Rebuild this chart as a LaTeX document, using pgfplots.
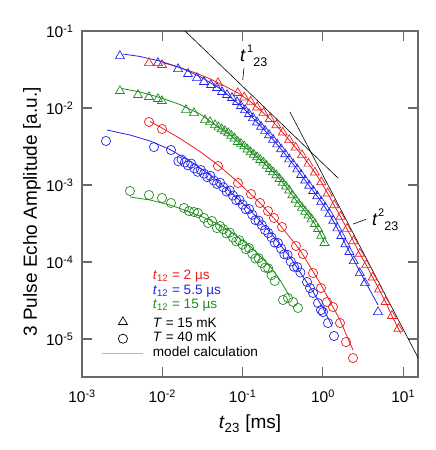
\documentclass[border=0pt]{standalone}
\usepackage{fontspec}
\setmainfont{Liberation Sans}
\usepackage{pgfplots}
\pgfplotsset{compat=1.18}

\definecolor{cred}{RGB}{235,30,30}
\definecolor{cblue}{RGB}{35,35,235}
\definecolor{cgreen}{RGB}{30,140,30}
\definecolor{axgray}{RGB}{105,105,105}

\pgfplotsset{
  tri/.style={only marks, mark=triangle, mark size=5.2pt, mark options={line width=0.7pt}, forget plot},
  circ/.style={only marks, mark=o, mark size=4.6pt, mark options={line width=0.7pt}, forget plot},
  model/.style={line width=0.8pt, no marks, forget plot},
}

\begin{document}
\begin{tikzpicture}
\path[use as bounding box] (-82pt,-73pt) rectangle (354pt,377pt);
\begin{axis}[
  at={(0pt,0pt)}, anchor=south west,
  scale only axis, width=336pt, height=346pt,
  xmode=log, ymode=log,
  xmin=1e-3, xmax=15.29, ymin=3.21e-6, ymax=0.1,
  xtick={1e-3,1e-2,1e-1,1,10},
  xticklabels={10\textsuperscript{-3},10\textsuperscript{-2},10\textsuperscript{-1},10\textsuperscript{0},10\textsuperscript{1}},
  ytick={1e-5,1e-4,1e-3,1e-2,1e-1},
  yticklabels={10\textsuperscript{-5},10\textsuperscript{-4},10\textsuperscript{-3},10\textsuperscript{-2},10\textsuperscript{-1}},
  xminorticks=false, yminorticks=false,
  major tick length=10pt,
  axis line style={draw=axgray, line width=1.2pt},
  tick style={draw=axgray, line width=1.2pt},
  tick label style={font=\fontsize{15.5}{15.5}\selectfont},
  xticklabel style={yshift=-9pt},
  yticklabel style={xshift=-5pt},
  xlabel={\textit{t}\textsubscript{23} [ms]},
  ylabel={3 Pulse Echo Amplitude [a.u.]},
  label style={font=\fontsize{19}{19}\selectfont},
  xlabel style={at={(axis description cs:0.5,-0.136)}, anchor=center},
  ylabel style={at={(axis description cs:-0.149,0.477)}, anchor=center},
  legend cell align=left,
  legend style={at={(rel axis cs:0.0595,0.3123)}, anchor=north west, draw=none, fill=none,
    inner sep=0pt, outer sep=0pt, row sep=0pt, font=\fontsize{13.6}{14}\selectfont,
    nodes={text height=9.8pt, text depth=3.2pt, inner sep=0.75pt},
    /tikz/every odd column/.append style={column sep=8.25pt}},
]

% ---- power laws
\addplot[black, line width=0.6pt, forget plot] coordinates {(0.0192,0.1) (1.55,0.001226)};
\addplot[black, line width=0.6pt, forget plot] coordinates {(0.389,0.00886) (15.4,5.65e-6)};

% ---- model lines, T = 15 mK
\addplot[model, cred] coordinates {
 (0.01,0.0390) (0.01585,0.0340) (0.02512,0.0289) (0.03981,0.0238) (0.0631,0.01875)
 (0.0871,0.01567) (0.1047,0.01374) (0.1259,0.01208) (0.1514,0.01021) (0.182,0.00861)
 (0.2188,0.00724) (0.263,0.00598) (0.3162,0.00481) (0.3802,0.00384) (0.4571,0.00307)
 (0.5495,0.00245) (0.6607,0.00190) (0.7943,0.00146) (0.955,0.00109) (1.148,7.80e-4)
 (1.380,5.47e-4) (1.660,3.88e-4) (1.995,2.70e-4) (2.399,1.87e-4) (2.884,1.28e-4)
 (3.467,9.14e-5) (4.169,6.31e-5) (5.012,4.42e-5) (6.026,3.03e-5) (7.244,2.00e-5)
 (8.710,1.36e-5) (9.33,1.18e-5)};
\addplot[model, cblue] coordinates {
 (0.00324,0.0502) (0.00527,0.0467) (0.00935,0.0407) (0.0166,0.0336) (0.0295,0.0256)
 (0.0524,0.0179) (0.0955,0.01062) (0.1202,0.00836) (0.1514,0.00652) (0.1905,0.00506)
 (0.2399,0.00389) (0.3020,0.00292) (0.3802,0.00216) (0.4786,0.00160) (0.6026,0.001148)
 (0.7586,8.38e-4) (0.9550,6.08e-4) (1.202,4.24e-4) (1.514,2.74e-4) (1.905,1.71e-4)
 (2.421,1.06e-4) (3.342,5.66e-5) (4.853,2.77e-5)};
\addplot[model, cgreen] coordinates {
 (0.00315,0.0179) (0.00527,0.01615) (0.00935,0.01368) (0.0166,0.01109) (0.0295,0.00836)
 (0.0501,0.00562) (0.0661,0.00472) (0.0871,0.00364) (0.1148,0.00290) (0.1514,0.00230)
 (0.1995,0.00178) (0.2630,0.00134) (0.3467,9.57e-4) (0.4571,6.46e-4) (0.6026,4.52e-4)
 (0.7943,3.13e-4) (0.9550,2.20e-4) (1.0471,1.77e-4)};

% ---- model lines, T = 40 mK
\addplot[model, cred] coordinates {
 (0.00703,0.00668) (0.00992,0.00550) (0.01661,0.00402) (0.02948,0.00272) (0.0494,0.001819)
 (0.0876,0.001094) (0.1647,5.84e-4) (0.2923,3.02e-4) (0.5186,1.432e-4) (0.920,5.34e-5)
 (1.633,1.765e-5) (2.371,7.19e-6)};
\addplot[model, cblue] coordinates {
 (0.002048,0.00518) (0.00396,0.00446) (0.00703,0.00373) (0.01247,0.00289) (0.02213,0.00205)
 (0.0393,0.001349) (0.0697,8.23e-4) (0.1236,4.73e-4) (0.2194,2.45e-4) (0.389,1.161e-4)
 (0.691,4.73e-5) (1.003,2.53e-5) (1.298,1.475e-5)};
\addplot[model, cgreen] coordinates {
 (0.00396,6.99e-4) (0.00703,6.39e-4) (0.01247,5.50e-4) (0.02213,4.46e-4) (0.0393,3.51e-4)
 (0.0697,2.53e-4) (0.1236,1.614e-4) (0.2194,8.87e-5) (0.2923,5.84e-5) (0.389,3.51e-5)};

% ---- data, T = 15 mK (triangles)
\addplot[tri, cred] coordinates {
 (0.00683,0.0384) (0.00992,0.0362) (0.0494,0.0211)
 (0.0871,0.01567) (0.1047,0.01374) (0.1259,0.01208) (0.1514,0.01021) (0.182,0.00861)
 (0.2188,0.00724) (0.263,0.00598) (0.3162,0.00481) (0.3802,0.00384) (0.4571,0.00307)
 (0.5495,0.00245) (0.6607,0.00190) (0.7943,0.00146) (0.955,0.00109) (1.148,7.80e-4)
 (1.380,5.47e-4) (1.660,3.88e-4) (1.995,2.70e-4) (2.399,1.87e-4) (2.884,1.28e-4)
 (3.467,9.14e-5) (4.169,6.31e-5) (5.012,4.42e-5) (6.026,3.03e-5) (7.244,2.00e-5)
 (8.710,1.36e-5)};
\addplot[tri, cblue] coordinates {
 (0.00297,0.0473) (0.00883,0.0384) (0.0157,0.0321) (0.0209,0.0277) (0.0270,0.0245)
 (0.0330,0.0218) (0.0404,0.0199) (0.0480,0.0182) (0.0554,0.01615) (0.0640,0.01476)
 (0.0738,0.01349) (0.0851,0.01197) (0.0955,0.01062) (0.1072,0.00942) (0.1202,0.00836)
 (0.1349,0.00741) (0.1514,0.00652) (0.1698,0.00573) (0.1905,0.00506) (0.2138,0.00445)
 (0.2399,0.00389) (0.2692,0.00338) (0.3020,0.00292) (0.3388,0.00251) (0.3802,0.00216)
 (0.4266,0.00186) (0.4786,0.00160) (0.5370,0.001355) (0.6026,0.001148) (0.6761,9.82e-4)
 (0.7586,8.38e-4) (0.8511,7.16e-4) (0.9550,6.08e-4) (1.072,5.10e-4) (1.202,4.24e-4)
 (1.349,3.44e-4) (1.514,2.74e-4) (1.698,2.18e-4) (1.905,1.71e-4) (2.138,1.35e-4)
 (2.421,1.03e-4) (2.877,7.19e-5) (3.342,5.33e-5) (4.853,2.24e-5)};
\addplot[tri, cgreen] coordinates {
 (0.00297,0.01663) (0.00498,0.01476) (0.00682,0.01390) (0.00883,0.01309) (0.00990,0.01233)
 (0.01972,0.00942) (0.02483,0.00861) (0.0340,0.00698) (0.0393,0.00658) (0.0453,0.00601)
 (0.0501,0.00562) (0.0550,0.00531) (0.0603,0.00501) (0.0661,0.00472) (0.0724,0.00437)
 (0.0794,0.00404) (0.0871,0.00364) (0.0955,0.00343) (0.1047,0.00319) (0.1148,0.00290)
 (0.1259,0.00267) (0.1380,0.00248) (0.1514,0.00230) (0.1660,0.00212) (0.1820,0.00196)
 (0.1995,0.00178) (0.2188,0.00162) (0.2399,0.00147) (0.2630,0.00134) (0.2884,0.00120)
 (0.3162,0.00107) (0.3467,9.57e-4) (0.3802,8.49e-4) (0.4169,7.38e-4) (0.4571,6.46e-4)
 (0.5012,5.66e-4) (0.5495,5.06e-4) (0.6026,4.52e-4) (0.6607,4.02e-4) (0.7244,3.59e-4)
 (0.7943,3.13e-4) (0.8710,2.69e-4) (0.9550,2.20e-4) (1.0471,1.77e-4)};

% ---- data, T = 40 mK (circles)
\addplot[circ, cred] coordinates {
 (0.00683,0.00658) (0.00992,0.00534) (0.0494,0.001765) (0.0876,0.001062) (0.1272,7.64e-4)
 (0.1647,5.84e-4) (0.2072,4.59e-4) (0.246,3.73e-4) (0.3095,2.85e-4) (0.462,1.614e-4)
 (0.565,1.27e-4) (0.753,7.19e-5) (0.947,4.59e-5) (1.125,3.02e-5) (1.336,2.60e-5)
 (1.633,1.614e-5) (1.940,9.14e-6) (2.371,5.66e-6)};
\addplot[circ, cblue] coordinates {
 (0.00199,0.00373) (0.00788,0.00311) (0.01283,0.00285)
 (0.01585,2.038e-3) (0.01738,2.144e-3) (0.01905,1.960e-3) (0.02089,1.803e-3) (0.02291,1.896e-3)
 (0.02512,1.643e-3) (0.02754,1.484e-3) (0.03020,1.566e-3) (0.03311,1.402e-3) (0.03631,1.266e-3)
 (0.03981,1.313e-3) (0.04365,1.144e-3) (0.04786,1.033e-3) (0.05248,1.068e-3) (0.05754,9.34e-4)
 (0.06310,8.21e-4) (0.06918,8.46e-4) (0.07586,7.30e-4) (0.08318,6.35e-4) (0.09120,6.41e-4)
 (0.1,5.57e-4) (0.1096,4.84e-4) (0.1202,4.88e-4) (0.1318,4.11e-4) (0.1445,3.50e-4)
 (0.1585,3.45e-4) (0.1738,3.01e-4) (0.1905,2.60e-4) (0.2089,2.38e-4) (0.2291,2.09e-4)
 (0.2512,1.786e-4) (0.2754,1.765e-4) (0.3020,1.493e-4) (0.3311,1.263e-4) (0.3631,1.236e-4)
 (0.3981,1.015e-4) (0.4365,8.66e-5) (0.4786,8.59e-5) (0.5248,7.30e-5)
 (0.634,5.50e-5) (0.691,4.59e-5) (0.753,3.96e-5) (0.869,2.93e-5) (0.947,2.38e-5)
 (1.003,2.24e-5) (1.157,1.614e-5) (1.375,1.094e-5)};
\addplot[circ, cgreen] coordinates {
 (0.00396,8.36e-4) (0.00683,7.42e-4) (0.00992,6.78e-4) (0.01283,5.84e-4) (0.01863,5.03e-4)
 (0.0215,4.59e-4) (0.02482,4.46e-4) (0.02783,4.33e-4) (0.03306,3.73e-4) (0.03708,3.21e-4)
 (0.04158,3.41e-4)
 (0.04786,2.76e-4) (0.05248,2.93e-4) (0.05754,2.67e-4) (0.06310,2.35e-4) (0.06918,2.41e-4)
 (0.07586,2.08e-4) (0.08318,1.851e-4) (0.09120,1.913e-4) (0.1,1.683e-4) (0.1096,1.471e-4)
 (0.1202,1.520e-4) (0.1318,1.282e-4) (0.1445,1.110e-4) (0.1585,1.120e-4) (0.1738,9.73e-5)
 (0.1905,8.46e-5) (0.2089,8.26e-5) (0.2291,6.74e-5) (0.2512,5.68e-5)
 (0.3186,3.21e-5) (0.3677,3.41e-5) (0.4243,3.02e-5) (0.4897,2.53e-5)};

% ---- annotations
\draw[black, line width=0.6pt] (axis cs:0.1003,0.0231) -- (axis cs:0.104,0.0331);
\node[anchor=base west, inner sep=0pt] at (axis cs:0.0928,0.0396)
  {{\fontsize{18}{18}\selectfont\itshape t}\hspace{2pt}\raisebox{9pt}{\fontsize{11}{11}\selectfont 1}\raisebox{-5pt}{\fontsize{12.5}{12.5}\selectfont 23}};
\draw[black, line width=0.6pt] (axis cs:2.391,3.115e-4) -- (axis cs:3.441,3.585e-4);
\node[anchor=base west, inner sep=0pt] at (axis cs:4.088,3.02e-4)
  {{\fontsize{18}{18}\selectfont\itshape t}\hspace{1pt}\raisebox{9pt}{\fontsize{11}{11}\selectfont 2}\raisebox{-5pt}{\fontsize{12.5}{12.5}\selectfont 23}};

% ---- legend
\addlegendimage{legend image code/.code={\path[draw=none, fill=none] (0pt,0pt) -- (41pt,0pt);}}
\addlegendentry[text=cred]{\textit{t}\textsubscript{12} = 2 µs}
\addlegendimage{legend image code/.code={\path[draw=none, fill=none] (0pt,0pt) -- (41pt,0pt);}}
\addlegendentry[text=cblue]{\textit{t}\textsubscript{12} = 5.5 µs}
\addlegendimage{legend image code/.code={\path[draw=none, fill=none] (0pt,0pt) -- (41pt,0pt);}}
\addlegendentry[text=cgreen]{\textit{t}\textsubscript{12} = 15 µs}
\addlegendimage{legend image code/.code={\path[draw=none, fill=none] (0pt,0pt) -- (41pt,0pt);
  \draw[black, mark=triangle, mark size=5.2pt, mark options={line width=0.7pt}, only marks] plot coordinates {(20.5pt,0pt)};}}
\addlegendentry[text height=14.3pt]{\textit{T} = 15 mK}
\addlegendimage{legend image code/.code={\path[draw=none, fill=none] (0pt,0pt) -- (41pt,0pt);
  \draw[black, mark=o, mark size=4.6pt, mark options={line width=0.7pt}, only marks] plot coordinates {(20.5pt,0pt)};}}
\addlegendentry{\textit{T} = 40 mK}
\addlegendimage{legend image code/.code={\draw[gray!55, line width=0.9pt] (0pt,0pt) -- (41pt,0pt);}}
\addlegendentry{model calculation}
\end{axis}
\end{tikzpicture}
\end{document}
